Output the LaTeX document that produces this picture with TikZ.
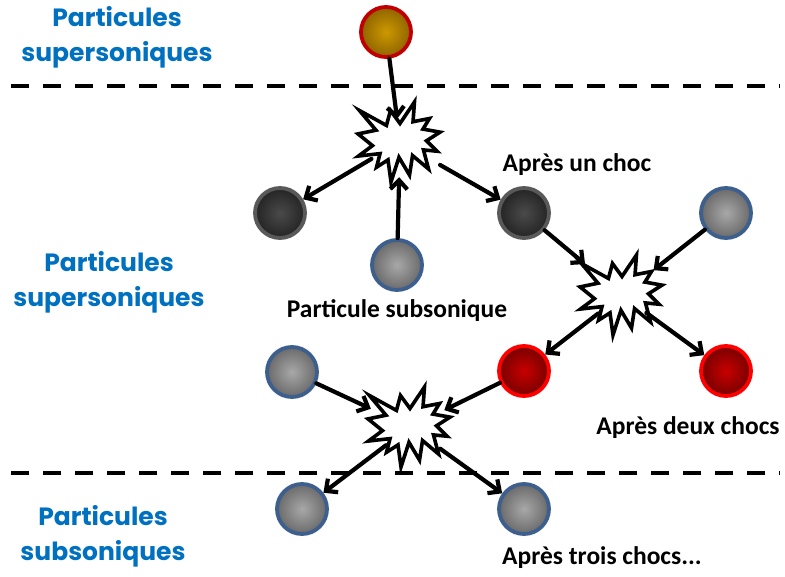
\documentclass[tikz,border=0pt]{standalone}
\usepackage{fontspec}
\usetikzlibrary{arrows.meta}
\newfontfamily\bluefont{Poppins}
\newfontfamily\tagfont{Carlito}
\definecolor{shkBlue}{HTML}{0070C0}
\definecolor{shkGoldIn}{HTML}{CC9900}
\definecolor{shkGoldOut}{HTML}{8F6400}
\definecolor{shkGoldRim}{HTML}{C00000}
\definecolor{shkDarkIn}{HTML}{4A4A4A}
\definecolor{shkDarkOut}{HTML}{242424}
\definecolor{shkDarkRim}{HTML}{595959}
\definecolor{shkGreyIn}{HTML}{A8A8A8}
\definecolor{shkGreyOut}{HTML}{6A6A6A}
\definecolor{shkGreyRim}{HTML}{3D5F8E}
\definecolor{shkRedIn}{HTML}{C80000}
\definecolor{shkRedOut}{HTML}{780000}
\definecolor{shkRedRim}{HTML}{FF0000}

\begin{document}
\begin{tikzpicture}[x=1pt,y=-1pt,>={Straight Barb[length=9pt,width=17pt]},line cap=round,line join=round]
\useasboundingbox[fill=white] (0,0) rectangle (785,577);
\tikzset{zone/.style={text=shkBlue,font=\bluefont\bfseries\fontsize{25}{35}\selectfont,align=center},
  tag/.style={text=black,font=\tagfont\bfseries\fontsize{25.5}{30}\selectfont},
  ball/.style={circle,minimum size=50pt,inner sep=0pt,line width=3.8pt},
  goldball/.style={ball,draw=shkGoldRim,inner color=shkGoldIn,outer color=shkGoldOut},
  darkball/.style={ball,draw=shkDarkRim,inner color=shkDarkIn,outer color=shkDarkOut},
  subball/.style={ball,draw=shkGreyRim,inner color=shkGreyIn,outer color=shkGreyOut},
  redball/.style={ball,draw=shkRedRim,inner color=shkRedIn,outer color=shkRedOut},
  hit/.style={circle,minimum size=60pt,inner sep=0pt},
  away/.style={draw=black,line width=4.2pt,->},
  into/.style={away,shorten >=10pt},
  border/.style={draw=black,line width=4.5pt,dash pattern=on 18pt off 14pt,line cap=butt},
  boom/.pic={\path[draw=black,fill=white,line width=3.6pt,line join=miter,xscale=0.84,yscale=0.8,shift={(-50,-50)}]
    (50,26.85) -- (38.67,10.63) -- (33.85,29.26) -- (1.71,10.63) -- (21.42,35.26) -- (0,39.88) -- (17.23,54.51) -- (0.63,67.53)
    -- (26.24,64.52) -- (22.05,81.56) -- (35.72,72.35) -- (39.28,100) -- (48.76,69.14) -- (61.33,91.38) -- (64.91,66.93)
    -- (84,83.77) -- (77.95,59.92) -- (94.18,61.53) -- (81.51,48.5) -- (97.67,37.67) -- (77.32,33.87) -- (85.09,20.63)
    -- (65.53,24.65) -- (67.23,0) -- cycle;}}
% zones
\draw[border] (11,86) -- (780,86);
\draw[border] (11,473) -- (780,473);
\node[zone] (zoneTop) at (117,37) {Particules\\supersoniques};
\node[zone] (zoneMid) at (109,282) {Particules\\supersoniques};
\node[zone] (zoneLow) at (103,536) {Particules\\subsoniques};
% collisions
\pic at (400,142) {boom}; \node[hit] (c1) at (400,142) {};
\pic at (622,295) {boom}; \node[hit] (c2) at (622,295) {};
\pic at (410,427) {boom}; \node[hit] (c3) at (410,427) {};
% particles
\node[goldball] (p0) at (386,32) {};
\node[darkball] (p1) at (280,213) {};
\node[subball] (p2) at (397,265) {};
\node[darkball] (p3) at (524,213) {};
\node[subball] (p4) at (726,213) {};
\node[redball] (p5) at (524,371) {};
\node[redball] (p6) at (726,371) {};
\node[subball] (p7) at (292,372) {};
\node[subball] (p8) at (302,509) {};
\node[subball] (p9) at (524,509) {};
% paths
\draw[into,shorten >=-7pt] (p0) -- (c1);
\draw[into,shorten >=5pt] (p2) -- (c1);
\draw[away,shorten <=3pt] (c1) -- (p1);
\draw[away,shorten <=16pt] (c1) -- (p3);
\draw[into,shorten >=18pt] (p3) -- (c2);
\draw[into] (p4) -- (c2);
\draw[away] (c2) -- (p5);
\draw[away] (c2) -- (p6);
\draw[into,shorten >=13pt] (p7) -- (c3);
\draw[into,shorten >=8pt] (p5) -- (c3);
\draw[away] (c3) -- (p8);
\draw[away,shorten <=7pt] (c3) -- (p9);
% labels
\node[tag] (lblOne) at (577,165) {Après un choc};
\node[tag] (lblSub) at (397,311) {Particule subsonique};
\node[tag] (lblTwo) at (688,428) {Après deux chocs};
\node[tag] (lblThree) at (602,558) {Après trois chocs...};
\end{tikzpicture}
\end{document}
